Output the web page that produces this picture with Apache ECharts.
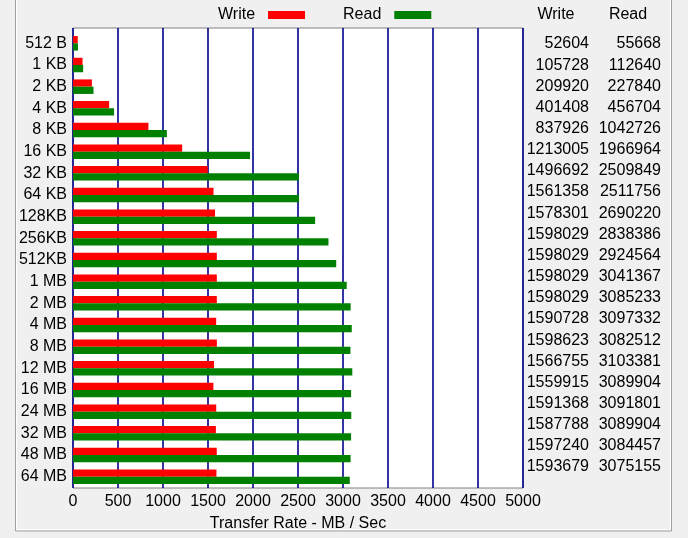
<!DOCTYPE html>
<html>
<head>
<meta charset="utf-8">
<script src="https://cdn.jsdelivr.net/npm/echarts@6/dist/echarts.min.js"></script>
<style>
  html, body { margin: 0; padding: 0; background: #f0f0f0; }
  #chart { width: 688px; height: 538px; }
</style>
</head>
<body>
<div id="chart"></div>
<script>
// transfer sizes
const sizes = ['512 B', '1 KB', '2 KB', '4 KB', '8 KB', '16 KB', '32 KB', '64 KB', '128KB', '256KB', '512KB',
  '1 MB', '2 MB', '4 MB', '8 MB', '12 MB', '16 MB', '24 MB', '32 MB', '48 MB', '64 MB'];

// values from the table on the right (KB/s)
const writeKB = [52604, 105728, 209920, 401408, 837926, 1213005, 1496692, 1561358, 1578301, 1598029, 1598029,
  1598029, 1598029, 1590728, 1598623, 1566755, 1559915, 1591368, 1587788, 1597240, 1593679];
const readKB = [55668, 112640, 227840, 456704, 1042726, 1966964, 2509849, 2511756, 2690220, 2838386, 2924564,
  3041367, 3085233, 3097332, 3082512, 3103381, 3089904, 3091801, 3089904, 3084457, 3075155];

const rateTicks = [0, 500, 1000, 1500, 2000, 2500, 3000, 3500, 4000, 4500, 5000];

const font = 'Liberation Sans, Arial, sans-serif';

// bars are drawn in MB / sec
const writeMB = writeKB.map(v => v / 1000);
const readMB = readKB.map(v => v / 1000);

const chart = echarts.init(document.getElementById('chart'), null, { renderer: 'canvas' });

// right hand table
const tableTexts = [];
const rowTop = 44;
const rowStep = 21.15;
tableTexts.push({
  type: 'text', x: 556, y: 15,
  style: { text: 'Write', font: '16px ' + font, fill: '#000', align: 'center', verticalAlign: 'middle' }
});
tableTexts.push({
  type: 'text', x: 628, y: 15,
  style: { text: 'Read', font: '16px ' + font, fill: '#000', align: 'center', verticalAlign: 'middle' }
});
sizes.forEach((s, i) => {
  const y = rowTop + rowStep * i;
  tableTexts.push({
    type: 'text', x: 589, y: y,
    style: { text: String(writeKB[i]), font: '16px ' + font, fill: '#000', align: 'right', verticalAlign: 'middle' }
  });
  tableTexts.push({
    type: 'text', x: 661, y: y,
    style: { text: String(readKB[i]), font: '16px ' + font, fill: '#000', align: 'right', verticalAlign: 'middle' }
  });
});

chart.setOption({
  backgroundColor: '#f0f0f0',
  animation: false,
  textStyle: { fontFamily: font },
  legend: {
    left: 213,
    top: 2,
    align: 'right',
    icon: 'rect',
    itemWidth: 37,
    itemHeight: 8,
    itemGap: 38,
    textStyle: { fontSize: 16, color: '#000', padding: [0, 8, 0, 0] },
    data: ['Write', 'Read']
  },
  graphic: [
    {
      type: 'rect',
      shape: { x: 15.5, y: -5, width: 656, height: 536 },
      style: { fill: 'none', stroke: '#a0a0a0', lineWidth: 1 },
      z: 0
    },
    {
      type: 'rect',
      shape: { x: 16.5, y: -5, width: 654, height: 534.5 },
      style: { fill: 'none', stroke: '#ffffff', lineWidth: 1 },
      z: 0
    }
  ].concat(tableTexts),
  grid: [
    {
      left: 73, top: 28, right: 165, bottom: 50,
      show: true, backgroundColor: '#ffffff', borderColor: '#808080', borderWidth: 1
    },
    {
      left: 73, top: 32.5, right: 165, bottom: 50.5
    }
  ],
  xAxis: [
    {
      gridIndex: 0,
      type: 'value',
      min: 0, max: 5000, interval: 500,
      axisLine: { show: false },
      axisTick: { show: false },
      axisLabel: {
        fontSize: 16, color: '#000', margin: 6,
        formatter: v => rateTicks.includes(v) ? String(v) : ''
      },
      splitLine: { show: true, lineStyle: { color: '#00008b', width: 1.6 } },
      name: 'Transfer Rate - MB / Sec',
      nameLocation: 'middle',
      nameGap: 28,
      nameTextStyle: { fontSize: 16, color: '#000' }
    },
    {
      gridIndex: 1,
      type: 'value',
      min: 0, max: 5000,
      show: false
    }
  ],
  yAxis: [
    {
      gridIndex: 0,
      type: 'value',
      show: false
    },
    {
      gridIndex: 1,
      type: 'category',
      inverse: true,
      data: sizes,
      axisLine: { show: false },
      axisTick: { show: false },
      axisLabel: { fontSize: 16, color: '#000', margin: 6 },
      splitLine: { show: false }
    }
  ],
  series: [
    {
      name: 'Write',
      type: 'bar',
      xAxisIndex: 1,
      yAxisIndex: 1,
      data: writeMB,
      itemStyle: { color: '#ff0000' },
      barGap: '0%',
      barCategoryGap: '33%',
      z: 3
    },
    {
      name: 'Read',
      type: 'bar',
      xAxisIndex: 1,
      yAxisIndex: 1,
      data: readMB,
      itemStyle: { color: '#008000' },
      barGap: '0%',
      barCategoryGap: '33%',
      z: 3
    }
  ]
});
</script>
</body>
</html>
